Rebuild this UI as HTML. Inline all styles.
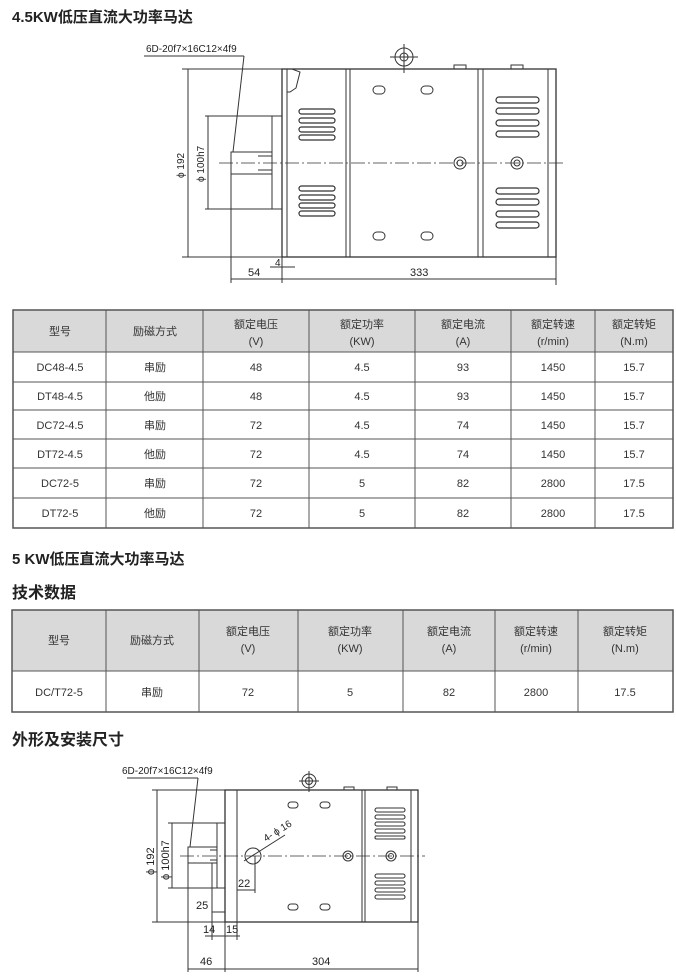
<!DOCTYPE html>
<html><head><meta charset="utf-8"><style>
html,body{margin:0;padding:0;background:#fff;}
body{width:676px;height:976px;position:relative;overflow:hidden;font-family:"Liberation Sans","Noto Sans CJK SC",sans-serif;color:#222;}
svg{position:absolute;left:0;top:0;}
.t{font-family:"Liberation Sans","Noto Sans CJK SC",sans-serif;}
</style></head><body>
<svg width="676" height="976" viewBox="0 0 676 976" xmlns="http://www.w3.org/2000/svg">
<g class="t" fill="#222">
<text x="12" y="22" font-size="15" font-weight="bold">4.5KW低压直流大功率马达</text>
<text x="12" y="564" font-size="15" font-weight="bold">5 KW低压直流大功率马达</text>
<text x="12" y="598" font-size="16" font-weight="bold">技术数据</text>
<text x="12" y="745" font-size="16" font-weight="bold">外形及安装尺寸</text>
</g>

<!-- TOP DRAWING -->
<g stroke="#333" stroke-width="1" fill="none">
<text x="146" y="52" font-size="10" fill="#222" stroke="none" class="t">6D-20f7×16C12×4f9</text>
<line x1="144" y1="56" x2="244" y2="56"/>
<line x1="244" y1="56" x2="233" y2="152"/>
<!-- phi192 -->
<line x1="182" y1="69" x2="282" y2="69"/><line x1="182" y1="257" x2="282" y2="257"/>
<line x1="188" y1="69" x2="188" y2="257"/>
<!-- flange -->
<rect x="272" y="116" width="10" height="93"/>
<line x1="205" y1="116" x2="272" y2="116"/><line x1="205" y1="209" x2="272" y2="209"/>
<line x1="208" y1="116" x2="208" y2="209"/>
<!-- shaft -->
<rect x="231" y="152" width="41" height="22"/>
<line x1="258" y1="156" x2="272" y2="156"/><line x1="258" y1="170" x2="272" y2="170"/>
<!-- body -->
<rect x="282" y="69" width="274" height="188" stroke-width="1.3"/>
<line x1="287" y1="69" x2="287" y2="257"/>
<line x1="346" y1="69" x2="346" y2="257"/><line x1="350" y1="69" x2="350" y2="257"/>
<line x1="478" y1="69" x2="478" y2="257"/><line x1="483" y1="69" x2="483" y2="257"/>
<line x1="548" y1="69" x2="548" y2="257"/>
<path d="M284 69 L292 69 L300 72 L296 88 L290 92 L287 92"/>
<!-- centerline -->
<line x1="219" y1="163" x2="563" y2="163" stroke-dasharray="14,3,2,3" stroke-width="0.8"/>
<!-- eye -->
<circle cx="404" cy="57" r="9"/><circle cx="404" cy="57" r="4"/>
<line x1="404" y1="44" x2="404" y2="73"/><line x1="390" y1="57" x2="418" y2="57"/>
<!-- top bumps -->
<rect x="454" y="65" width="12" height="4"/><rect x="511" y="65" width="12" height="4"/>
<!-- slots -->
<rect x="373" y="86" width="12" height="8" rx="4"/><rect x="421" y="86" width="12" height="8" rx="4"/>
<rect x="373" y="232" width="12" height="8" rx="4"/><rect x="421" y="232" width="12" height="8" rx="4"/>
<!-- nuts -->
<circle cx="460" cy="163" r="6"/><circle cx="460" cy="163" r="3"/>
<circle cx="517" cy="163" r="6"/><circle cx="517" cy="163" r="3"/>
<!-- vents -->
<g stroke-width="1.2">
<rect x="299" y="109" width="36" height="5" rx="2.5"/><rect x="299" y="118" width="36" height="5" rx="2.5"/><rect x="299" y="127" width="36" height="5" rx="2.5"/><rect x="299" y="135" width="36" height="5" rx="2.5"/>
<rect x="299" y="186" width="36" height="5" rx="2.5"/><rect x="299" y="195" width="36" height="5" rx="2.5"/><rect x="299" y="203" width="36" height="5" rx="2.5"/><rect x="299" y="211" width="36" height="5" rx="2.5"/>
<rect x="496" y="97" width="43" height="6" rx="3"/><rect x="496" y="108" width="43" height="6" rx="3"/><rect x="496" y="120" width="43" height="6" rx="3"/><rect x="496" y="131" width="43" height="6" rx="3"/>
<rect x="496" y="188" width="43" height="6" rx="3"/><rect x="496" y="199" width="43" height="6" rx="3"/><rect x="496" y="211" width="43" height="6" rx="3"/><rect x="496" y="222" width="43" height="6" rx="3"/>
</g>
<!-- bottom dims -->
<line x1="231" y1="174" x2="231" y2="283"/><line x1="282" y1="257" x2="282" y2="283"/><line x1="556" y1="257" x2="556" y2="285"/>
<line x1="231" y1="279" x2="282" y2="279"/><line x1="282" y1="279" x2="556" y2="279"/>
<line x1="270" y1="267" x2="295" y2="267"/>
<text x="248" y="276" font-size="11" fill="#222" stroke="none" class="t">54</text>
<text x="410" y="276" font-size="11" fill="#222" stroke="none" class="t">333</text>
<text x="275" y="266" font-size="10" fill="#222" stroke="none" class="t">4</text>
<text transform="translate(184,178) rotate(-90)" font-size="10" fill="#222" stroke="none" class="t">ϕ 192</text>
<text transform="translate(204,182) rotate(-90)" font-size="10" fill="#222" stroke="none" class="t">ϕ 100h7</text>
</g>

<!-- TABLE 1 -->
<g stroke="#555" stroke-width="1">
<rect x="13" y="310" width="660" height="42" fill="#d9d9d9"/>
<rect x="13" y="310" width="660" height="218" fill="none" stroke-width="1.5"/>
<line x1="13" y1="352" x2="673" y2="352"/><line x1="13" y1="382" x2="673" y2="382"/><line x1="13" y1="410" x2="673" y2="410"/><line x1="13" y1="439" x2="673" y2="439"/><line x1="13" y1="468" x2="673" y2="468"/><line x1="13" y1="498" x2="673" y2="498"/>
<line x1="106" y1="310" x2="106" y2="528"/><line x1="203" y1="310" x2="203" y2="528"/><line x1="309" y1="310" x2="309" y2="528"/><line x1="415" y1="310" x2="415" y2="528"/><line x1="511" y1="310" x2="511" y2="528"/><line x1="595" y1="310" x2="595" y2="528"/>
</g>
<g class="t" font-size="11" fill="#333" text-anchor="middle">
<text x="60" y="335">型号</text><text x="155" y="335">励磁方式</text>
<text x="256" y="328">额定电压</text><text x="256" y="345">(V)</text>
<text x="362" y="328">额定功率</text><text x="362" y="345">(KW)</text>
<text x="463" y="328">额定电流</text><text x="463" y="345">(A)</text>
<text x="553" y="328">额定转速</text><text x="553" y="345">(r/min)</text>
<text x="634" y="328">额定转矩</text><text x="634" y="345">(N.m)</text>
<text x="60" y="371">DC48-4.5</text><text x="155" y="371">串励</text><text x="256" y="371">48</text><text x="362" y="371">4.5</text><text x="463" y="371">93</text><text x="553" y="371">1450</text><text x="634" y="371">15.7</text>
<text x="60" y="400">DT48-4.5</text><text x="155" y="400">他励</text><text x="256" y="400">48</text><text x="362" y="400">4.5</text><text x="463" y="400">93</text><text x="553" y="400">1450</text><text x="634" y="400">15.7</text>
<text x="60" y="429">DC72-4.5</text><text x="155" y="429">串励</text><text x="256" y="429">72</text><text x="362" y="429">4.5</text><text x="463" y="429">74</text><text x="553" y="429">1450</text><text x="634" y="429">15.7</text>
<text x="60" y="458">DT72-4.5</text><text x="155" y="458">他励</text><text x="256" y="458">72</text><text x="362" y="458">4.5</text><text x="463" y="458">74</text><text x="553" y="458">1450</text><text x="634" y="458">15.7</text>
<text x="60" y="487">DC72-5</text><text x="155" y="487">串励</text><text x="256" y="487">72</text><text x="362" y="487">5</text><text x="463" y="487">82</text><text x="553" y="487">2800</text><text x="634" y="487">17.5</text>
<text x="60" y="517">DT72-5</text><text x="155" y="517">他励</text><text x="256" y="517">72</text><text x="362" y="517">5</text><text x="463" y="517">82</text><text x="553" y="517">2800</text><text x="634" y="517">17.5</text>
</g>

<!-- TABLE 2 -->
<g stroke="#555" stroke-width="1">
<rect x="12" y="610" width="661" height="61" fill="#d9d9d9"/>
<rect x="12" y="610" width="661" height="102" fill="none" stroke-width="1.5"/>
<line x1="12" y1="671" x2="673" y2="671"/>
<line x1="106" y1="610" x2="106" y2="712"/><line x1="199" y1="610" x2="199" y2="712"/><line x1="298" y1="610" x2="298" y2="712"/><line x1="403" y1="610" x2="403" y2="712"/><line x1="495" y1="610" x2="495" y2="712"/><line x1="578" y1="610" x2="578" y2="712"/>
</g>
<g class="t" font-size="11" fill="#333" text-anchor="middle">
<text x="59" y="644">型号</text><text x="152" y="644">励磁方式</text>
<text x="248" y="635">额定电压</text><text x="248" y="652">(V)</text>
<text x="350" y="635">额定功率</text><text x="350" y="652">(KW)</text>
<text x="449" y="635">额定电流</text><text x="449" y="652">(A)</text>
<text x="536" y="635">额定转速</text><text x="536" y="652">(r/min)</text>
<text x="625" y="635">额定转矩</text><text x="625" y="652">(N.m)</text>
<text x="59" y="696">DC/T72-5</text><text x="152" y="696">串励</text><text x="248" y="696">72</text><text x="350" y="696">5</text><text x="449" y="696">82</text><text x="536" y="696">2800</text><text x="625" y="696">17.5</text>
</g>

<!-- BOTTOM DRAWING -->
<g stroke="#333" stroke-width="1" fill="none">
<text x="122" y="774" font-size="10" fill="#222" stroke="none" class="t">6D-20f7×16C12×4f9</text>
<line x1="127" y1="778" x2="198" y2="778"/><line x1="198" y1="778" x2="190" y2="847"/>
<line x1="152" y1="790" x2="225" y2="790"/><line x1="152" y1="922" x2="225" y2="922"/>
<line x1="157" y1="790" x2="157" y2="922"/>
<rect x="217" y="823" width="8" height="65"/>
<line x1="168" y1="823" x2="217" y2="823"/><line x1="168" y1="888" x2="217" y2="888"/>
<line x1="172" y1="823" x2="172" y2="888"/>
<rect x="188" y="847" width="29" height="16"/>
<line x1="210" y1="850" x2="217" y2="850"/><line x1="210" y1="860" x2="217" y2="860"/>
<rect x="225" y="790" width="193" height="132" stroke-width="1.3"/>
<line x1="237" y1="790" x2="237" y2="922"/>
<line x1="362" y1="790" x2="362" y2="922"/><line x1="365" y1="790" x2="365" y2="922"/>
<line x1="411" y1="790" x2="411" y2="922"/>
<line x1="180" y1="856" x2="425" y2="856" stroke-dasharray="14,3,2,3" stroke-width="0.8"/>
<circle cx="253" cy="856" r="8"/>
<line x1="244" y1="861" x2="285" y2="835"/>
<text transform="translate(266,842) rotate(-32)" font-size="10" fill="#222" stroke="none" class="t">4- ϕ 16</text>
<circle cx="309" cy="781" r="7"/><circle cx="309" cy="781" r="3.5"/>
<line x1="309" y1="771" x2="309" y2="792"/><line x1="299" y1="781" x2="319" y2="781"/>
<rect x="344" y="787" width="10" height="3"/><rect x="387" y="787" width="10" height="3"/>
<rect x="288" y="802" width="10" height="6" rx="3"/><rect x="320" y="802" width="10" height="6" rx="3"/>
<rect x="288" y="904" width="10" height="6" rx="3"/><rect x="320" y="904" width="10" height="6" rx="3"/>
<circle cx="348" cy="856" r="5"/><circle cx="348" cy="856" r="2.5"/>
<circle cx="391" cy="856" r="5"/><circle cx="391" cy="856" r="2.5"/>
<g stroke-width="1.1">
<rect x="375" y="808" width="30" height="4" rx="2"/><rect x="375" y="815" width="30" height="4" rx="2"/><rect x="375" y="822" width="30" height="4" rx="2"/><rect x="375" y="829" width="30" height="4" rx="2"/><rect x="375" y="836" width="30" height="3" rx="1.5"/>
<rect x="375" y="874" width="30" height="4" rx="2"/><rect x="375" y="881" width="30" height="4" rx="2"/><rect x="375" y="888" width="30" height="4" rx="2"/><rect x="375" y="895" width="30" height="4" rx="2"/>
</g>
<line x1="237" y1="890" x2="255" y2="890"/><line x1="255" y1="856" x2="255" y2="893"/>
<text x="238" y="887" font-size="11" fill="#222" stroke="none" class="t">22</text>
<line x1="212" y1="912" x2="225" y2="912"/><line x1="212" y1="863" x2="212" y2="940"/>
<text x="196" y="909" font-size="11" fill="#222" stroke="none" class="t">25</text>
<line x1="225" y1="922" x2="225" y2="972"/><line x1="237" y1="922" x2="237" y2="940"/>
<line x1="205" y1="936" x2="240" y2="936"/>
<text x="203" y="933" font-size="11" fill="#222" stroke="none" class="t">14</text>
<text x="226" y="933" font-size="11" fill="#222" stroke="none" class="t">15</text>
<line x1="188" y1="863" x2="188" y2="972"/><line x1="418" y1="922" x2="418" y2="972"/>
<line x1="188" y1="969" x2="225" y2="969"/><line x1="225" y1="969" x2="418" y2="969"/>
<text x="200" y="965" font-size="11" fill="#222" stroke="none" class="t">46</text>
<text x="312" y="965" font-size="11" fill="#222" stroke="none" class="t">304</text>
<text transform="translate(154,875) rotate(-90)" font-size="11" fill="#222" stroke="none" class="t">ϕ 192</text>
<text transform="translate(169,880) rotate(-90)" font-size="11" fill="#222" stroke="none" class="t">ϕ 100h7</text>
</g>
</svg>
</body></html>
